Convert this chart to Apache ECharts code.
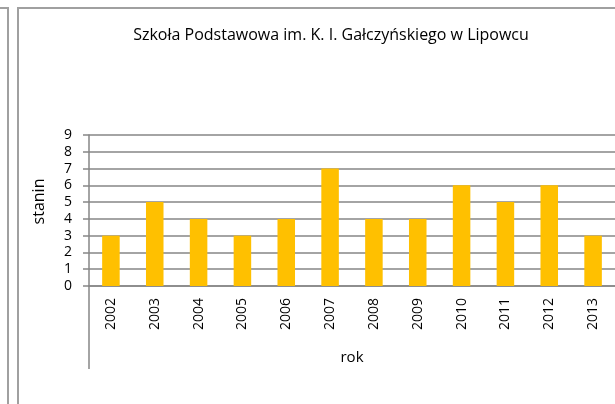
<!DOCTYPE html>
<html>
<head>
<meta charset="utf-8">
<script src="https://cdn.jsdelivr.net/npm/echarts@6/dist/echarts.min.js"></script>
<style>
html, body { margin: 0; padding: 0; background: #fff; }
#main { width: 615px; height: 404px; }
</style>
</head>
<body>
<div id="main"></div>
<script>
var years = ['2002', '2003', '2004', '2005', '2006', '2007', '2008', '2009', '2010', '2011', '2012', '2013'];
var stanin = [3, 5, 4, 3, 4, 7, 4, 4, 6, 5, 6, 3];
var yTicks = [0, 9, 1]; // min, max, interval

var font = 'Open Sans';
var gridLeft = 89;
var gridBottomY = 286;

var myChart = echarts.init(document.getElementById('main'));

option = {
    animation: false,
    title: {
        text: 'Szkoła Podstawowa im. K. I. Gałczyńskiego w Lipowcu',
        left: 326,
        top: 22,
        textAlign: 'center',
        textStyle: { fontFamily: font, fontSize: 16, fontWeight: 'normal', color: '#000' }
    },
    grid: {
        left: gridLeft,
        right: -2,
        top: 135,
        bottom: 404 - gridBottomY
    },
    xAxis: {
        type: 'category',
        data: years,
        name: 'rok',
        nameLocation: 'middle',
        nameGap: 64,
        nameTextStyle: { fontFamily: font, fontSize: 15, color: '#000' },
        axisLine: { lineStyle: { color: '#868686', width: 1.5 } },
        axisTick: { interval: 0, length: 48, lineStyle: { color: '#868686', width: 1.5 } },
        axisLabel: { rotate: 90, interval: 0, margin: 12, fontFamily: font, fontSize: 14, color: '#000' }
    },
    yAxis: {
        type: 'value',
        min: yTicks[0],
        max: yTicks[1],
        interval: yTicks[2],
        name: 'stanin',
        nameLocation: 'middle',
        nameRotate: 90,
        nameGap: 42,
        nameTextStyle: { fontFamily: font, fontSize: 16, color: '#000', padding: [0, 0, 0, 18] },
        axisLine: { show: true, lineStyle: { color: '#868686', width: 1.5 } },
        axisTick: { show: true, length: 6, lineStyle: { color: '#868686', width: 1.5 } },
        axisLabel: { margin: 17, fontFamily: font, fontSize: 14, color: '#000' },
        splitLine: { lineStyle: { color: '#868686', width: 1.5 } }
    },
    graphic: [
        // frame of the neighbouring box and of this chart
        { type: 'polyline', silent: true, shape: { points: [[0, 8], [8, 8], [8, 404]] }, style: { stroke: '#a0a0a0', lineWidth: 2, fill: null } },
        { type: 'polyline', silent: true, shape: { points: [[18, 404], [18, 8], [615, 8]] }, style: { stroke: '#a0a0a0', lineWidth: 2, fill: null } },
        // second level of the category axis
        { type: 'line', silent: true, shape: { x1: gridLeft, y1: gridBottomY, x2: gridLeft, y2: 369 }, style: { stroke: '#868686', lineWidth: 1.5 } }
    ],
    series: [
        {
            name: 'stanin',
            type: 'bar',
            barWidth: '40%',
            itemStyle: { color: '#FFC000' },
            data: stanin
        }
    ]
};
myChart.setOption(option);
</script>
</body>
</html>
